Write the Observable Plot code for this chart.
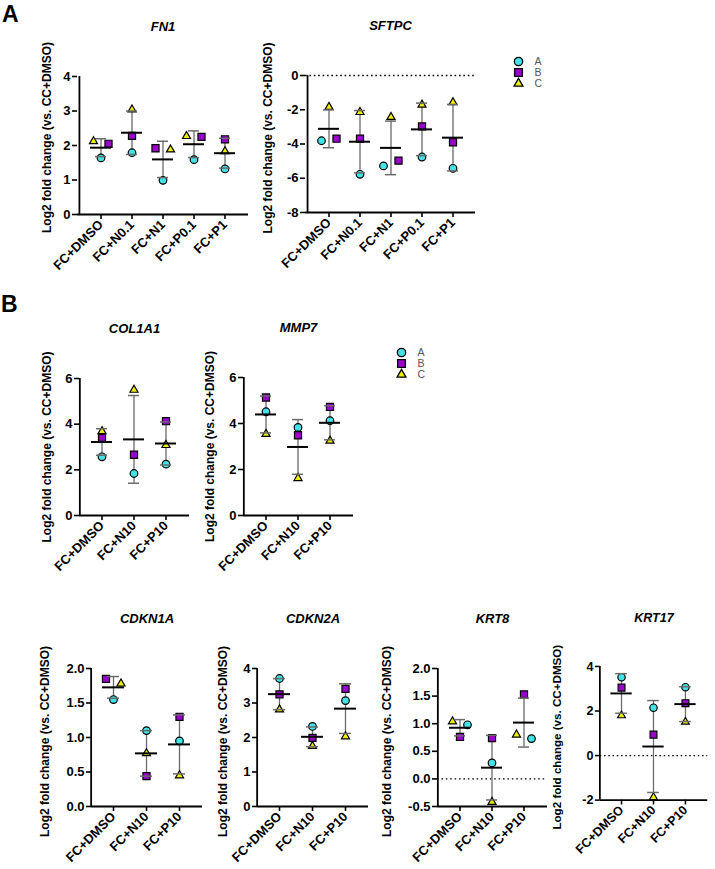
<!DOCTYPE html>
<html><head><meta charset="utf-8">
<script src="https://cdn.jsdelivr.net/npm/d3@7"></script>
<script src="https://cdn.jsdelivr.net/npm/@observablehq/plot@0.6"></script>
<style>
html,body{margin:0;padding:0;background:#fff;overflow:hidden;}
#root{position:relative;width:715px;height:869px;overflow:hidden;font-family:Arial,"Liberation Sans",sans-serif;background:#fff;}
.panel{position:absolute;}
.plabel{position:absolute;font-weight:bold;font-size:23px;line-height:1;font-family:Arial,"Liberation Sans",sans-serif;}
</style></head><body><div id="root"></div>
<script>
// ---------- data ----------
const series = ["A", "B", "C"];
const catsA = ["FC+DMSO", "FC+N0.1", "FC+N1", "FC+P0.1", "FC+P1"];
const catsB = ["FC+DMSO", "FC+N10", "FC+P10"];
const yLabel = "Log2 fold change (vs. CC+DMSO)";

const fn1A = [1.64, 1.79, 0.99, 1.59, 1.32];
const fn1B = [2.05, 2.28, 1.92, 2.25, 2.18];
const fn1C = [2.12, 3.04, 1.88, 2.27, 1.83];

const sftpcA = [-3.81, -5.77, -5.28, -4.76, -5.42];
const sftpcB = [-3.69, -3.69, -4.97, -2.97, -3.90];
const sftpcC = [-1.84, -2.14, -2.43, -1.71, -1.57];

const col1a1A = [2.57, 1.84, 2.25];
const col1a1B = [3.40, 2.66, 4.13];
const col1a1C = [3.69, 5.50, 3.08];

const mmp7A = [4.51, 3.83, 4.12];
const mmp7B = [5.13, 3.49, 4.72];
const mmp7C = [3.54, 1.62, 3.25];

const cdkn1aA = [1.55, 1.10, 0.95];
const cdkn1aB = [1.85, 0.44, 1.30];
const cdkn1aC = [1.78, 0.77, 0.45];

const cdkn2aA = [3.71, 2.32, 3.07];
const cdkn2aB = [3.25, 1.99, 3.41];
const cdkn2aC = [2.81, 1.75, 2.03];

const krt8A = [0.98, 0.29, 0.73];
const krt8B = [0.76, 0.74, 1.53];
const krt8C = [1.04, -0.42, 0.80];

const krt17A = [3.52, 2.15, 3.07];
const krt17B = [3.05, 0.94, 2.35];
const krt17C = [1.80, -1.87, 1.51];

const ticksFN1 = [0, 1, 2, 3, 4];
const ticksSFTPC = [-8, -6, -4, -2, 0];
const ticksCOL1A1 = [0, 2, 4, 6];
const ticksMMP7 = [0, 2, 4, 6];
const ticksCDKN1A = [0, 0.5, 1, 1.5, 2];
const ticksCDKN2A = [0, 1, 2, 3, 4];
const ticksKRT8 = [-0.5, 0, 0.5, 1, 1.5, 2];
const ticksKRT17 = [-2, 0, 2, 4];

// ---------- styles / layout ----------
const FONT = 'Arial, "Liberation Sans", sans-serif';
const fills = {A: "#42E2E6", B: "#9A00CC", C: "#EEEE00"};
const symbols = {A: "circle", B: "square", C: "triangle"};
const radii = {A: 3.8, B: 4.0, C: 3.0};
const drawOrder = ["A", "C", "B"];
const PAD_IN = 0.33, PAD_OUT = 0.34;

const panels = [
  {gene: "FN1", cats: catsA, A: fn1A, B: fn1B, C: fn1C, ticks: ticksFN1, dec: 0, zero: false, box: [77, 76, 248, 214], ldx: 30, ldy: -8},
  {gene: "SFTPC", cats: catsA, A: sftpcA, B: sftpcB, C: sftpcC, ticks: ticksSFTPC, dec: 0, zero: true, box: [305, 75, 475, 212], ldx: 37, ldy: -6},
  {gene: "COL1A1", cats: catsB, A: col1a1A, B: col1a1B, C: col1a1C, ticks: ticksCOL1A1, dec: 0, zero: false, box: [79, 378, 189, 515], ldx: 32, ldy: 0},
  {gene: "MMP7", cats: catsB, A: mmp7A, B: mmp7B, C: mmp7C, ticks: ticksMMP7, dec: 0, zero: false, box: [243, 377, 353, 515], ldx: 33, ldy: 0},
  {gene: "CDKN1A", cats: catsB, A: cdkn1aA, B: cdkn1aB, C: cdkn1aC, ticks: ticksCDKN1A, dec: 1, zero: false, box: [91, 668, 202, 806], ldx: 46, ldy: 4},
  {gene: "CDKN2A", cats: catsB, A: cdkn2aA, B: cdkn2aB, C: cdkn2aC, ticks: ticksCDKN2A, dec: 0, zero: false, box: [257, 668, 368, 806], ldx: 34, ldy: 4},
  {gene: "KRT8", cats: catsB, A: krt8A, B: krt8B, C: krt8C, ticks: ticksKRT8, dec: 1, zero: true, box: [437, 668, 547, 806], ldx: 50, ldy: 4},
  {gene: "KRT17", cats: catsB, A: krt17A, B: krt17B, C: krt17C, ticks: ticksKRT17, dec: 0, zero: true, box: [602, 668, 713, 806], ldx: 44, ldy: 4}
];

const root = document.getElementById("root");
const ML = 72, MR = 8, MT = 64, MB = 92;

function buildRows(p) {
  const rows = [];
  p.cats.forEach((c, i) => series.forEach(s => rows.push({cat: c, series: s, v: p[s][i], slot: 0})));
  return rows;
}

// side-by-side placement of points that would overlap (like a scatter dot plot)
function assignSlots(rows, p) {
  const [x0, y0, x1, y1] = p.box;
  const dom = d3.extent(p.ticks);
  const pxPerUnit = (y1 - y0) / (dom[1] - dom[0]);
  for (const c of p.cats) {
    const g = rows.filter(r => r.cat === c).sort((a, b) => b.v - a.v);
    let cluster = [g[0]];
    const clusters = [];
    for (let i = 1; i < g.length; i++) {
      if ((g[i - 1].v - g[i].v) * pxPerUnit < 6) cluster.push(g[i]);
      else { clusters.push(cluster); cluster = [g[i]]; }
    }
    clusters.push(cluster);
    for (const cl of clusters) {
      const n = cl.length;
      const ord = cl.slice().sort((a, b) => Math.abs(b.v) - Math.abs(a.v));
      ord.forEach((r, k) => { r.slot = n === 1 ? 0 : (n === 2 ? (k === 0 ? -1 : 1) : k - 1); });
    }
  }
}

function drawPanel(p) {
  const [x0, y0, x1, y1] = p.box;
  const W = x1 - x0;
  const rows = buildRows(p);
  assignSlots(rows, p);
  const stats = p.cats.map(c => {
    const vals = rows.filter(r => r.cat === c).map(r => r.v);
    const m = d3.mean(vals), sd = d3.deviation(vals);
    return {cat: c, mean: m, lo: m - sd, hi: m + sd};
  });
  const yDom = d3.extent(p.ticks);
  const xOpts = {type: "band", domain: p.cats, paddingInner: PAD_IN, paddingOuter: PAD_OUT};
  // distance from the frame's left edge to the first band's centre (to place the y-axis line)
  const xs = Plot.scale({x: {...xOpts, range: [0, W]}});
  const firstCenter = xs.apply(p.cats[0]) + xs.bandwidth / 2;
  const fmt = d => p.dec ? d.toFixed(p.dec) : String(d);
  const dots = [];
  for (const s of drawOrder) {
    for (const slot of [-1, 0, 1]) {
      dots.push(Plot.dot(rows, {
        filter: r => r.series === s && r.slot === slot,
        x: "cat", y: "v", dx: slot * 7.5,
        symbol: symbols[s], r: radii[s], fill: fills[s], stroke: "black", strokeWidth: 1.2
      }));
    }
  }
  const chart = Plot.plot({
    width: W + ML + MR,
    height: (y1 - y0) + MT + MB,
    marginLeft: ML, marginRight: MR, marginTop: MT, marginBottom: MB,
    style: {fontFamily: FONT, fontSize: "13px", fontWeight: "bold", background: "transparent", overflow: "visible", color: "black"},
    x: xOpts,
    y: {domain: yDom},
    marks: [
      p.zero ? Plot.ruleY([0], {stroke: "black", strokeWidth: 1.4, strokeDasharray: "1.6,2.8"}) : null,
      Plot.ruleX(stats, {x: "cat", y1: "lo", y2: "hi", stroke: "#6a6a6a", strokeWidth: 1.3}),
      ...dots,
      Plot.tickY(stats, {x: "cat", y: "lo", stroke: "#6a6a6a", strokeWidth: 1.5, inset: 5}),
      Plot.tickY(stats, {x: "cat", y: "hi", stroke: "#6a6a6a", strokeWidth: 1.5, inset: 5}),
      Plot.tickY(stats, {x: "cat", y: "mean", stroke: "black", strokeWidth: 2}),
      Plot.axisX({label: null, tickRotate: -45, tickSize: 5, tickPadding: 3, strokeWidth: 1.6, fontSize: 13, fontWeight: "bold"}),
      Plot.axisY({label: null, ticks: p.ticks, tickFormat: fmt, tickSize: 5, tickPadding: 2, strokeWidth: 1.6, fontSize: 13, fontWeight: "bold"}),
      // axis lines
      Plot.ruleY([yDom[0]], {stroke: "black", strokeWidth: 1.8}),
      Plot.ruleX([p.cats[0]], {x: d => d, y1: yDom[0], y2: yDom[1], dx: -firstCenter, stroke: "black", strokeWidth: 1.8}),
      Plot.text([p.gene], {text: d => d, frameAnchor: "top", dy: -55, fontSize: 13, fontWeight: "bold", fontStyle: "italic", fill: "black"}),
      Plot.text([yLabel], {text: d => d, frameAnchor: "left", rotate: -90, dx: -p.ldx, dy: p.ldy, textAnchor: "middle", lineAnchor: "middle", fontSize: 12, fontWeight: "bold", fill: "black"})
    ]
  });
  const div = document.createElement("div");
  div.className = "panel";
  div.style.left = (x0 - ML) + "px";
  div.style.top = (y0 - MT) + "px";
  div.appendChild(chart);
  root.appendChild(div);
}

panels.forEach(drawPanel);

function drawLegend(mx, my) {
  const lg = Plot.plot({
    width: 60, height: 54, margin: 0, marginLeft: 10,
    style: {fontFamily: FONT, background: "transparent", overflow: "visible"},
    x: {axis: null},
    y: {type: "point", domain: series, range: [9, 44], axis: null},
    marks: series.map(s => Plot.dot([s], {y: d => d, frameAnchor: "left", symbol: symbols[s], r: radii[s] * 1.1, fill: fills[s], stroke: "black", strokeWidth: 1.3}))
      .concat([Plot.text(series, {y: d => d, text: d => d, frameAnchor: "left", dx: 16, textAnchor: "start", fontSize: 10.5, fill: "#555"})])
  });
  const div = document.createElement("div");
  div.className = "panel";
  div.style.left = (mx - 10) + "px";
  div.style.top = (my - 9) + "px";
  div.appendChild(lg);
  root.appendChild(div);
}
drawLegend(518, 54);
drawLegend(401, 345);

function panelLabel(t, x, y) {
  const d = document.createElement("div");
  d.className = "plabel";
  d.textContent = t;
  d.style.left = x + "px";
  d.style.top = y + "px";
  root.appendChild(d);
}
panelLabel("A", 2, 3);
panelLabel("B", 1, 293);
</script>
</body></html>
